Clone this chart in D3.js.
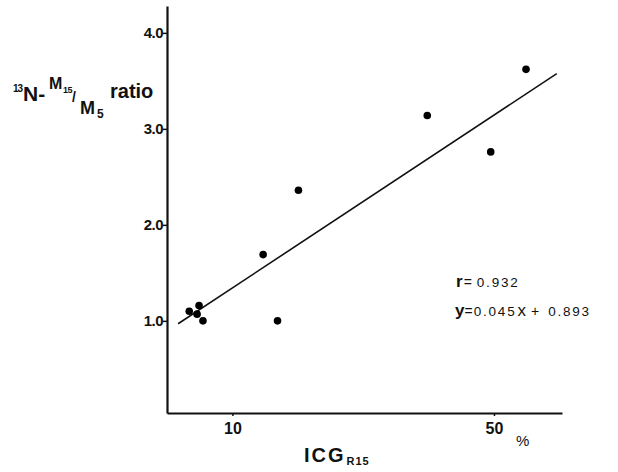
<!DOCTYPE html>
<html>
<head>
<meta charset="utf-8">
<script src="https://cdn.jsdelivr.net/npm/d3@7"></script>
<style>
  body { margin: 0; background: #fff; }
  svg { display: block; font-family: "Liberation Sans", Arial, sans-serif; }
</style>
</head>
<body>
<script>
// ICG R15 (%) vs 13N-M15/M5 ratio
const icg   = [3.4, 4.6, 4.9, 5.5, 14.7, 16.9, 20.1, 39.8, 49.5, 54.9];
const ratio = [1.10, 1.07, 1.16, 1.00, 1.69, 1.00, 2.36, 3.14, 2.76, 3.62];
const xTicks = [10, 50];
const yTicks = [1.0, 2.0, 3.0, 4.0];
const fitSlope = 0.045, fitIntercept = 0.893;
const fitRange = [1.7, 59.6];

const width = 618, height = 472;

const svg = d3.select("body").append("svg")
  .attr("width", width)
  .attr("height", height);

const x = d3.scaleLinear().domain([0, 60.4]).range([167, 562]);
const y = d3.scaleLinear().domain([0.04, 4.28]).range([413, 6]);

// axes
const xAxis = svg.append("g")
  .attr("transform", `translate(0,${y(0.04)})`)
  .call(d3.axisBottom(x).tickValues(xTicks).tickSize(3).tickSizeOuter(0).tickFormat(d3.format("d")));

const yAxis = svg.append("g")
  .attr("transform", `translate(${x(0)},0)`)
  .call(d3.axisLeft(y).tickValues(yTicks).tickSize(4).tickSizeOuter(0).tickFormat(d3.format(".1f")));

[xAxis, yAxis].forEach(g => {
  g.select(".domain").attr("stroke", "#111").attr("stroke-width", 2.2);
  g.selectAll(".tick line").attr("stroke", "#111").attr("stroke-width", 1.5);
  g.selectAll(".tick text")
    .attr("fill", "#111")
    .style("font-weight", "bold");
});
xAxis.selectAll(".tick text").attr("dy", "0.95em").style("font-size", "16px");
yAxis.selectAll(".tick text").attr("x", -4).style("font-size", "15px").style("letter-spacing", "-0.5px");

// regression line
svg.append("line")
  .attr("x1", x(fitRange[0]))
  .attr("y1", y(fitSlope * fitRange[0] + fitIntercept))
  .attr("x2", x(fitRange[1]))
  .attr("y2", y(fitSlope * fitRange[1] + fitIntercept))
  .attr("stroke", "#111")
  .attr("stroke-width", 1.6);

// points
svg.append("g")
  .selectAll("circle")
  .data(icg.map((v, i) => [v, ratio[i]]))
  .join("circle")
    .attr("cx", d => x(d[0]))
    .attr("cy", d => y(d[1]))
    .attr("r", 3.8)
    .attr("fill", "#000");

// y axis label: 13N-M15/M5 ratio
const lab = svg.append("g").attr("fill", "#111").style("font-weight", "bold");
lab.append("text").attr("x", 13).attr("y", 92).style("font-size", "10px").style("letter-spacing", "-1px").text("13");
lab.append("text").attr("x", 23).attr("y", 101).style("font-size", "21px").text("N-");
lab.append("text").attr("x", 49).attr("y", 89).style("font-size", "16px").text("M");
lab.append("text").attr("x", 63).attr("y", 93).style("font-size", "9px").style("letter-spacing", "-0.5px").text("15");
lab.append("text").attr("x", 72).attr("y", 102).style("font-size", "14px").text("/");
lab.append("text").attr("x", 80).attr("y", 114).style("font-size", "18px").text("M");
lab.append("text").attr("x", 97).attr("y", 118).style("font-size", "12px").text("5");
lab.append("text").attr("x", 110).attr("y", 98).style("font-size", "20px").text("ratio");

// x axis label: ICG R15 and %
const xl = svg.append("text").attr("x", 304).attr("y", 462).attr("fill", "#111").style("font-weight", "bold");
xl.append("tspan").style("font-size", "20px").style("letter-spacing", "2px").text("ICG");
xl.append("tspan").style("font-size", "11px").style("letter-spacing", "1px").attr("dx", "1").attr("dy", "3").text("R15");
svg.append("text").attr("x", 516).attr("y", 446).attr("fill", "#111").style("font-size", "15px").text("%");

// stats annotation
const r = svg.append("text").attr("x", 456).attr("y", 287).attr("fill", "#111");
r.append("tspan").style("font-size", "17px").style("font-weight", "bold").text("r");
r.append("tspan").style("font-size", "14px").attr("dx", "1").text("=");
r.append("tspan").style("font-size", "13.5px").style("letter-spacing", "1.8px").attr("dx", "5").text("0.932");
const eq = svg.append("text").attr("x", 455).attr("y", 316).attr("fill", "#111");
eq.append("tspan").style("font-size", "17px").style("font-weight", "bold").text("y");
eq.append("tspan").style("font-size", "14px").text("=");
eq.append("tspan").style("font-size", "13.5px").style("letter-spacing", "1.8px").attr("dx", "1").text("0.045");
eq.append("tspan").style("font-size", "17px").attr("dx", "1").text("x");
eq.append("tspan").style("font-size", "14px").attr("dx", "5").text("+");
eq.append("tspan").style("font-size", "13.5px").style("letter-spacing", "1.8px").attr("dx", "9").text("0.893");
</script>
</body>
</html>
